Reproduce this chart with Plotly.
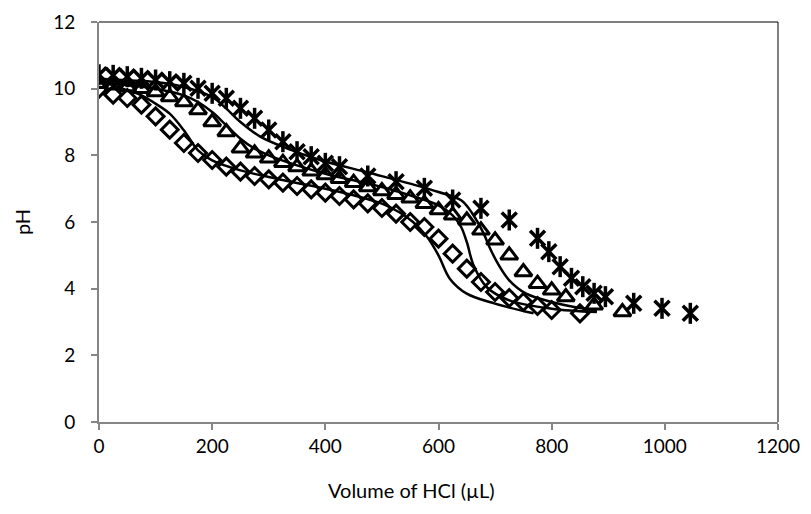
"""
pH titration curves: measured points (markers) and model fits (lines)
"""
import plotly.graph_objects as go

# diamonds
DIA_X = [0, 25, 50, 75, 100, 125, 150, 175, 200, 225, 250, 275, 300, 325, 350,
         375, 400, 425, 450, 475, 500, 525, 550, 575, 600, 625, 650, 675, 700,
         725, 750, 775, 800, 850]
DIA_Y = [10.0, 9.82, 9.72, 9.52, 9.17, 8.77, 8.37, 8.07, 7.86, 7.66, 7.51, 7.38,
         7.28, 7.18, 7.08, 6.98, 6.88, 6.78, 6.68, 6.56, 6.42, 6.25, 6.0, 5.85,
         5.5, 5.05, 4.6, 4.2, 3.9, 3.72, 3.6, 3.48, 3.36, 3.26]

# triangles
TRI_X = [0, 25, 50, 75, 100, 125, 150, 175, 200, 225, 250, 275, 300, 325, 350,
         375, 400, 425, 450, 475, 500, 525, 550, 575, 600, 625, 650, 675, 700,
         725, 750, 775, 800, 825, 875, 925]
TRI_Y = [10.15, 10.1, 10.05, 10.0, 9.9, 9.75, 9.6, 9.36, 9.0, 8.7, 8.21, 8.06,
         7.91, 7.78, 7.65, 7.52, 7.41, 7.3, 7.18, 7.05, 6.93, 6.82, 6.71, 6.55,
         6.36, 6.2, 6.05, 5.75, 5.45, 5.0, 4.5, 4.15, 3.95, 3.75, 3.5, 3.3]

# asterisks
AST_X = [0, 25, 50, 75, 100, 125, 150, 175, 200, 225, 250, 275, 300, 325, 350,
         375, 400, 425, 475, 525, 575, 625, 675, 725, 775, 795, 815, 835, 855,
         875, 895, 945, 995, 1045]
AST_Y = [10.42, 10.4, 10.36, 10.31, 10.26, 10.21, 10.16, 10.01, 9.86, 9.71, 9.41,
         9.11, 8.76, 8.41, 8.11, 7.96, 7.76, 7.66, 7.38, 7.21, 7.01, 6.66, 6.41,
         6.06, 5.51, 5.11, 4.66, 4.31, 4.06, 3.86, 3.76, 3.56, 3.41, 3.26]

# model fits
FIT1_X = [0, 25, 50, 75, 100, 125, 150, 175, 200, 250, 300, 350, 400, 450, 500,
          530, 555, 580, 600, 620, 650, 700, 768]
FIT1_Y = [10.2, 10.1, 9.95, 9.8, 9.55, 9.25, 8.75, 8.15, 7.85, 7.55, 7.35, 7.17,
          7.0, 6.8, 6.55, 6.3, 6.0, 5.55, 5.0, 4.3, 3.85, 3.55, 3.26]
FIT2_X = [0, 50, 100, 150, 175, 200, 225, 250, 275, 300, 350, 400, 450, 500,
          550, 600, 625, 640, 650, 662, 685, 725, 800, 880]
FIT2_Y = [10.2, 10.1, 10.0, 9.8, 9.6, 9.3, 8.9, 8.5, 8.2, 8.0, 7.7, 7.45, 7.25,
          7.05, 6.8, 6.5, 6.2, 5.85, 5.4, 4.7, 4.05, 3.65, 3.4, 3.3]
FIT3_X = [0, 50, 100, 150, 200, 225, 250, 285, 332, 391, 479, 550, 600, 640,
          660, 680, 690, 705, 725, 755, 800, 840, 880]
FIT3_Y = [10.3, 10.25, 10.2, 10.05, 9.75, 9.4, 9.0, 8.56, 8.21, 7.86, 7.47, 7.15,
          6.9, 6.65, 6.25, 5.65, 5.25, 4.75, 4.25, 3.85, 3.6, 3.45, 3.35]

FONT = "Lato"

fig = go.Figure()

for fx, fy in [(FIT1_X, FIT1_Y), (FIT2_X, FIT2_Y), (FIT3_X, FIT3_Y)]:
    fig.add_trace(go.Scatter(x=fx, y=fy, mode="lines",
                             line=dict(color="black", width=2.5, shape="spline"),
                             showlegend=False))

fig.add_trace(go.Scatter(x=DIA_X, y=DIA_Y, mode="markers", showlegend=False,
                         marker=dict(symbol="diamond-open", size=13, color="black",
                                     line=dict(width=3, color="black"))))
fig.add_trace(go.Scatter(x=TRI_X, y=TRI_Y, mode="markers", showlegend=False,
                         marker=dict(symbol="triangle-up-open", size=15, color="black",
                                     line=dict(width=3, color="black"))))
# star marker = x plus vertical bar
for sym in ["x-thin-open", "line-ns-open"]:
    fig.add_trace(go.Scatter(x=AST_X, y=AST_Y, mode="markers", showlegend=False,
                             marker=dict(symbol=sym, size=15, color="black",
                                         line=dict(width=3.5, color="black"))))

axis = dict(showgrid=False, zeroline=False, showline=True, linecolor="#868686",
            linewidth=2, ticks="outside", ticklen=6, tickcolor="#868686",
            tickwidth=1.5, automargin=False,
            tickfont=dict(family=FONT, size=19, color="black"))

# page body has an 8px margin, so margins are shifted by 8
fig.update_layout(
    width=811, height=514,
    margin=dict(l=91, r=41, t=14, b=100),
    plot_bgcolor="white", paper_bgcolor="white",
    font=dict(family=FONT, color="black"),
    xaxis=dict(axis, range=[0, 1200], dtick=200, ticklabelstandoff=0),
    yaxis=dict(axis, range=[0, 12], dtick=2, ticklabelstandoff=12,
               title=dict(text="pH", font=dict(family=FONT, size=20), standoff=17)),
    # x title sits left of the plot centre, as in the original chart
    annotations=[dict(text="Volume of HCl (µL)", xref="paper", yref="paper",
                      x=0.46, y=-0.17, xanchor="center", yanchor="middle",
                      showarrow=False, font=dict(family=FONT, size=20))],
    shapes=[
        dict(type="line", xref="paper", yref="paper", x0=0, x1=1, y0=1, y1=1,
             line=dict(color="black", width=1)),
        dict(type="line", xref="paper", yref="paper", x0=1, x1=1, y0=0, y1=1,
             line=dict(color="black", width=1)),
    ],
)

fig.write_html("out.html")
